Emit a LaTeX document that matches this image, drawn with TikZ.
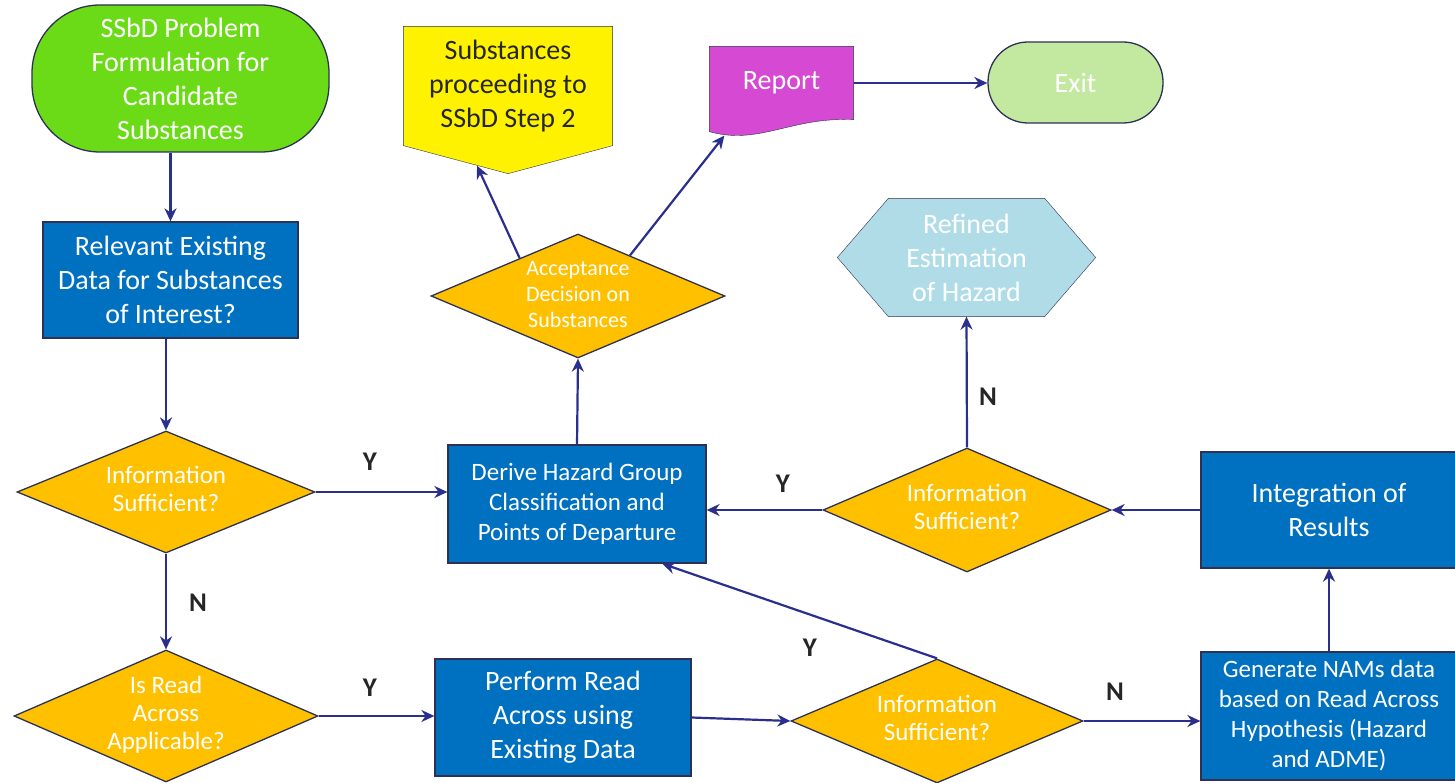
\documentclass[tikz,border=0pt]{standalone}
\usepackage{fontspec}
\setmainfont{Carlito}
\usetikzlibrary{arrows.meta, shapes.geometric, calc, backgrounds}

\definecolor{navy}{RGB}{42,46,140}
\definecolor{edge}{RGB}{45,50,85}
\definecolor{boxblue}{RGB}{0,112,192}
\definecolor{gold}{RGB}{255,192,0}
\definecolor{lime}{RGB}{108,219,23}
\definecolor{palegreen}{RGB}{195,233,160}
\definecolor{paleblue}{RGB}{176,220,232}
\definecolor{reportpink}{RGB}{214,74,211}
\definecolor{darktext}{RGB}{38,38,38}

\newcommand{\boxfont}{\fontsize{28}{34}\selectfont}
\newcommand{\slimtext}[1]{\raisebox{-0.25em}[0pt][0pt]{\begin{tabular}{@{}c@{}}#1\end{tabular}}}

\begin{document}
\begin{tikzpicture}[x=1pt, y=-1pt, line width=1.3pt,
    process/.style={rectangle, draw=edge, fill=boxblue, text=white, inner sep=0pt, align=center, font=\boxfont},
    decision/.style={diamond, draw=edge, fill=gold, text=white, inner sep=0pt, font=\fontsize{25}{28}\selectfont},
    terminal/.style={rectangle, rounded corners=#1, draw=edge, text=white, inner sep=0pt, align=center, font=\boxfont},
    plain/.style={rectangle, inner sep=0pt, align=center, font=\boxfont},
    arr/.style={-{Stealth[length=13pt, width=12pt]}, navy, line width=2.2pt},
    yn/.style={text=darktext, font=\fontsize{27}{30}\selectfont\bfseries}]
            \useasboundingbox (0,0) rectangle (1455,783);

            \node[terminal=68pt, fill=lime, minimum width=297pt, minimum height=147pt] (start) at (180.5,78.5) {SSbD Problem\\Formulation for\\Candidate\\Substances};
            \node[process, minimum width=255pt, minimum height=116pt] (relevant) at (170.5,280) {Relevant Existing\\Data for Substances\\of Interest?};
            \node[decision, minimum width=298pt, minimum height=122pt] (suff1) at (166,492) {\slimtext{Information\\Sufficient?}};
            \node[decision, minimum width=304pt, minimum height=132pt] (readacross) at (166,716) {\slimtext{Is Read\\Across\\Applicable?}};
            \node[process, minimum width=258pt, minimum height=118pt, font=\fontsize{25}{30}\selectfont] (derive) at (577,504) {Derive Hazard Group\\Classification and\\Points of Departure};
            \node[process, minimum width=256pt, minimum height=117pt] (perform) at (563,717.5) {Perform Read\\Across using\\Existing Data};
            \node[decision, minimum width=294pt, minimum height=124pt, font=\fontsize{22}{26}\selectfont] (accept) at (578,296) {\slimtext{Acceptance\\Decision on\\Substances}};
            \node[plain, minimum width=208pt, minimum height=118pt, text=darktext] (nextstep) at (508,86) {Substances\\proceeding to\\SSbD Step 2};
            \node[plain, minimum width=143pt, minimum height=72pt, text=white] (report) at (781.5,83) {Report};
            \node[terminal=40pt, fill=palegreen, minimum width=175pt, minimum height=81pt] (exit) at (1075.5,82.5) {Exit};
            \node[plain, minimum width=155pt, minimum height=117pt, text=white] (refined) at (966.5,257.5) {Refined\\Estimation\\of Hazard};
            \node[decision, minimum width=288pt, minimum height=124pt] (suff3) at (967,510) {\slimtext{Information\\Sufficient?}};
            \node[decision, minimum width=292pt, minimum height=124pt] (suff2) at (937,721) {\slimtext{Information\\Sufficient?}};
            \node[process, minimum width=256pt, minimum height=116pt] (integ) at (1329,510) {Integration of\\Results};
            \node[process, minimum width=256pt, minimum height=128pt, font=\fontsize{25}{30}\selectfont] (nams) at (1329,716) {Generate NAMs data\\based on Read Across\\Hypothesis (Hazard\\and ADME)};

            \begin{scope}[on background layer]
                \draw[draw=edge, fill=yellow] (nextstep.north west) -- (nextstep.north east) -- (nextstep.south east) -- ($(nextstep.south)+(0,28)$) -- (nextstep.south west) -- cycle;
                \draw[draw=edge, fill=reportpink] (report.north west) -- (report.north east) -- (report.south east) .. controls +(-63,-3) and +(50,14) .. ($(report.south west)+(0,12)$) -- cycle;
                \draw[draw=edge, fill=paleblue] (refined.north west) -- (refined.north east) -- ($(refined.east)+(51,0)$) -- (refined.south east) -- (refined.south west) -- ($(refined.west)+(-51,0)$) -- cycle;
            \end{scope}

            \coordinate (nextin) at ($(nextstep.south)+(-31,20)$);
            \coordinate (reportin) at ($(report.south west)+(15,16)$);

            \draw[arr] (relevant.north |- start.south) -- (relevant.north);
            \draw[arr] (suff1.north |- relevant.south) -- (suff1.north);
            \draw[arr] (suff1.east) -- (suff1.east -| derive.west);
            \draw[arr] (suff1.south) -- (readacross.north);
            \draw[arr] (readacross.east) -- (readacross.east -| perform.west);
            \draw[arr] (perform.east) -- (suff2.west);
            \draw[arr] (suff2.east) -- (suff2.east -| nams.west);
            \draw[arr] (suff2.north) -- (derive.-35);
            \draw[arr] (nams.north) -- (integ.south);
            \draw[arr] (integ.west) -- (suff3.east);
            \draw[arr] (suff3.west) -- (suff3.west -| derive.east);
            \draw[arr] (suff3.north) -- (refined.south);
            \draw[arr] (derive.north) -- (accept.south);
            \draw[arr] (accept.147) -- (nextin);
            \draw[arr] (accept.38) -- (reportin);
            \draw[arr] (report.east) -- (report.east -| exit.west);

            \node[yn] (y1) at (370,462) {Y};
            \node[yn] (n1) at (198,603) {N};
            \node[yn] (y2) at (370,688) {Y};
            \node[yn] (y3) at (783,484) {Y};
            \node[yn] (n2) at (988,397) {N};
            \node[yn] (y4) at (810,648) {Y};
            \node[yn] (n3) at (1115,692) {N};
        \end{tikzpicture}
\end{document}
